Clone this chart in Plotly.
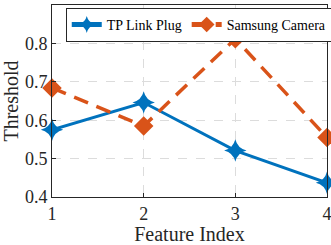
import plotly.graph_objects as go

features = [1, 2, 3, 4]
tp_link = [0.575, 0.646, 0.521, 0.437]
samsung = [0.684, 0.585, 0.812, 0.555]
y_ticks = [0.4, 0.5, 0.6, 0.7, 0.8]

fig = go.Figure()
fig.add_trace(go.Scatter(
    x=features, y=tp_link, name="TP Link Plug", mode="lines+markers",
    line=dict(color="#0072BD", width=3),
    marker=dict(symbol="star-diamond", size=16, color="#0072BD"),
    cliponaxis=False,
))
fig.add_trace(go.Scatter(
    x=features, y=samsung, name="Samsung Camera", mode="lines+markers",
    line=dict(color="#D95319", width=3.5, dash="15px,9px"),
    marker=dict(symbol="diamond", size=15, color="#D95319"),
    cliponaxis=False,
))

fig.update_layout(
    width=331, height=245,
    margin=dict(l=52, r=4, t=5, b=48, autoexpand=False),
    paper_bgcolor="white", plot_bgcolor="white",
    font=dict(family="Liberation Serif", color="#262626"),
    showlegend=True,
    legend=dict(
        orientation="h", x=0.05, y=0.985, xanchor="left", yanchor="top",
        bgcolor="white", bordercolor="#262626", borderwidth=1,
        font=dict(size=14, family="Liberation Serif", color="#000000"),
        itemwidth=30, tracegroupgap=0, itemsizing="constant",
    ),
)
fig.update_xaxes(
    range=[1, 4], tickvals=features, ticks="inside", ticklen=4,
    tickcolor="#262626", tickfont=dict(size=18, family="Liberation Serif"),
    ticklabeloverflow="allow",
    showline=True, linecolor="#262626", linewidth=1, mirror=True,
    showgrid=True, gridcolor="#dcdcdc", griddash="dash", gridwidth=1,
    zeroline=False, automargin=False,
    title=dict(text="Feature Index", font=dict(size=20, family="Liberation Serif"), standoff=0),
)
fig.update_yaxes(
    range=[0.4, 0.9], tickvals=y_ticks, ticktext=[f"{v:.1f}" for v in y_ticks],
    ticks="inside", ticklen=4, tickcolor="#262626",
    tickfont=dict(size=18, family="Liberation Serif"),
    showline=True, linecolor="#262626", linewidth=1, mirror=True,
    showgrid=True, gridcolor="#dcdcdc", griddash="dash", gridwidth=1,
    zeroline=False, automargin=False,
    title=dict(text="Threshold", font=dict(size=20, family="Liberation Serif"), standoff=4),
)

fig.write_html(
    "out.html",
    config={"displayModeBar": False},
    post_script="document.body.style.margin='0';document.body.style.padding='0';document.body.style.overflow='hidden';",
)
